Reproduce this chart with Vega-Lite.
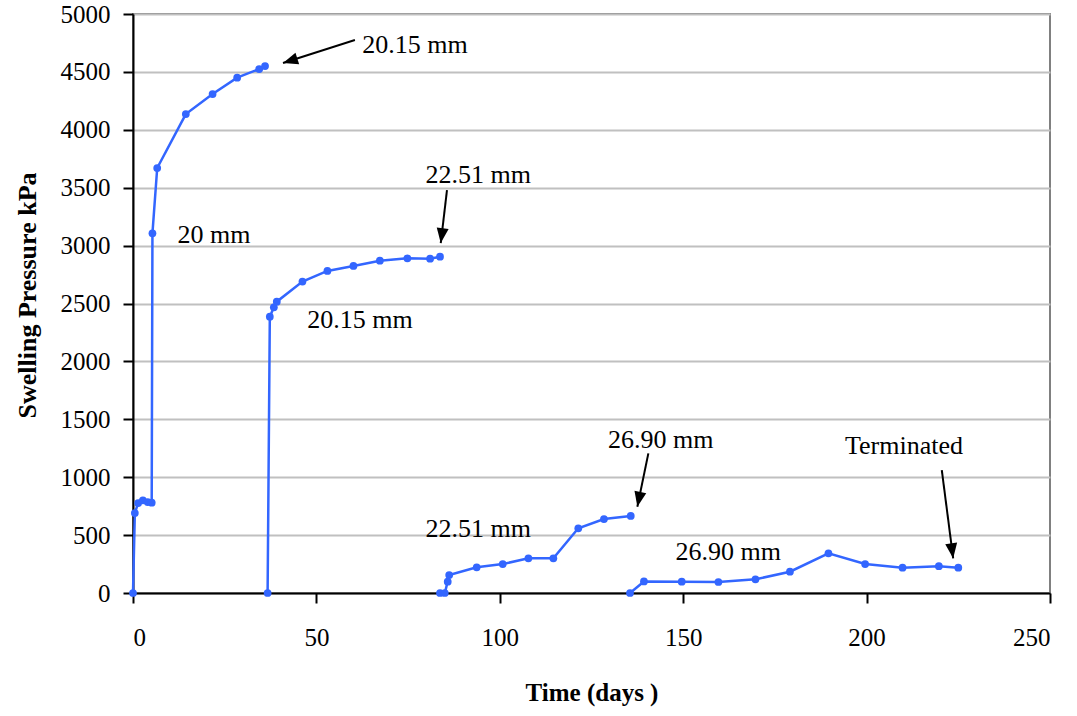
{
  "$schema": "https://vega.github.io/schema/vega-lite/v6.json",
  "width": 917,
  "height": 579,
  "autosize": {"type": "none"},
  "padding": {"left": 133, "top": 14, "right": 27, "bottom": 123},
  "background": "white",
  "config": {
    "font": "Liberation Serif",
    "view": {"stroke": "#808080", "strokeWidth": 2},
    "axis": {
      "domainColor": "black", "domainWidth": 2, "tickColor": "black", "tickWidth": 2, "tickSize": 10,
      "labelFont": "Liberation Serif", "labelFontSize": 25, "labelColor": "black",
      "titleFont": "Liberation Serif", "titleFontSize": 25, "titleFontWeight": "bold", "titleColor": "black",
      "gridColor": "#c0c0c0", "gridWidth": 2
    }
  },
  "datasets": {
    "swell": [
      {"s": "A", "t": 0, "p": 0},
      {"s": "A", "t": 0.5, "p": 690},
      {"s": "A", "t": 1.4, "p": 777},
      {"s": "A", "t": 2.7, "p": 800},
      {"s": "A", "t": 4, "p": 785},
      {"s": "A", "t": 5.1, "p": 780},
      {"s": "A", "t": 5.3, "p": 3106},
      {"s": "A", "t": 6.6, "p": 3670},
      {"s": "A", "t": 14.4, "p": 4136},
      {"s": "A", "t": 21.7, "p": 4309},
      {"s": "A", "t": 28.4, "p": 4450},
      {"s": "A", "t": 34.4, "p": 4525},
      {"s": "A", "t": 36, "p": 4550},
      {"s": "B", "t": 36.7, "p": 0},
      {"s": "B", "t": 37.3, "p": 2386},
      {"s": "B", "t": 38.4, "p": 2467},
      {"s": "B", "t": 39.2, "p": 2516},
      {"s": "B", "t": 46.2, "p": 2689},
      {"s": "B", "t": 53, "p": 2781},
      {"s": "B", "t": 60.1, "p": 2824},
      {"s": "B", "t": 67.3, "p": 2870},
      {"s": "B", "t": 74.8, "p": 2890},
      {"s": "B", "t": 81, "p": 2887},
      {"s": "B", "t": 83.7, "p": 2904},
      {"s": "C", "t": 83.7, "p": 0},
      {"s": "C", "t": 85, "p": 0},
      {"s": "C", "t": 85.8, "p": 98},
      {"s": "C", "t": 86.2, "p": 155},
      {"s": "C", "t": 93.7, "p": 222},
      {"s": "C", "t": 100.8, "p": 250},
      {"s": "C", "t": 107.8, "p": 300},
      {"s": "C", "t": 114.6, "p": 300},
      {"s": "C", "t": 121.4, "p": 559},
      {"s": "C", "t": 128.4, "p": 639},
      {"s": "C", "t": 135.7, "p": 665},
      {"s": "D", "t": 135.5, "p": 0},
      {"s": "D", "t": 139.3, "p": 100},
      {"s": "D", "t": 149.6, "p": 98},
      {"s": "D", "t": 159.6, "p": 95},
      {"s": "D", "t": 169.7, "p": 118},
      {"s": "D", "t": 179.1, "p": 184},
      {"s": "D", "t": 189.6, "p": 343},
      {"s": "D", "t": 199.6, "p": 250},
      {"s": "D", "t": 209.8, "p": 219},
      {"s": "D", "t": 219.7, "p": 232},
      {"s": "D", "t": 225, "p": 219}
    ],
    "arrows": [
      {"x": 60.5, "y": 4775, "x2": 40.9, "y2": 4577, "angle": 252.3},
      {"x": 85.6, "y": 3480, "x2": 83.9, "y2": 3022, "angle": 187.5},
      {"x": 140.5, "y": 1206, "x2": 137.5, "y2": 745, "angle": 191.6},
      {"x": 220.5, "y": 1062, "x2": 223.6, "y2": 300, "angle": 172.5}
    ],
    "labels": [
      {"x": 76.9, "y": 4732, "text": "20.15 mm"},
      {"x": 22.1, "y": 3092, "text": "20 mm"},
      {"x": 94.1, "y": 3610, "text": "22.51 mm"},
      {"x": 61.9, "y": 2358, "text": "20.15 mm"},
      {"x": 143.9, "y": 1321, "text": "26.90 mm"},
      {"x": 94.1, "y": 553, "text": "22.51 mm"},
      {"x": 162.3, "y": 350, "text": "26.90 mm"},
      {"x": 210.2, "y": 1269, "text": "Terminated"}
    ]
  },
  "layer": [
    {
      "data": {"name": "swell"},
      "mark": {"type": "line", "color": "#3366ff", "strokeWidth": 2.5, "point": {"filled": true, "size": 60, "color": "#3366ff", "opacity": 1}},
      "encoding": {
        "x": {"field": "t", "type": "quantitative", "scale": {"domain": [0, 250], "nice": false},
          "axis": {"values": [0, 50, 100, 150, 200, 250], "format": "d", "grid": false, "labelPadding": 22, "title": "Time (days )", "titlePadding": 30}},
        "y": {"field": "p", "type": "quantitative", "scale": {"domain": [0, 5000], "nice": false},
          "axis": {"values": [0, 500, 1000, 1500, 2000, 2500, 3000, 3500, 4000, 4500, 5000], "format": "d", "grid": true, "labelPadding": 13,
            "title": "Swelling Pressure kPa", "titleX": -106, "titleY": 281, "titleBaseline": "middle", "titleAlign": "center", "titleFontSize": 26}},
        "detail": {"field": "s"}
      }
    },
    {
      "data": {"name": "arrows"},
      "mark": {"type": "rule", "color": "black", "strokeWidth": 2},
      "encoding": {
        "x": {"field": "x", "type": "quantitative"},
        "y": {"field": "y", "type": "quantitative"},
        "x2": {"field": "x2"},
        "y2": {"field": "y2"}
      }
    },
    {
      "data": {"name": "arrows"},
      "mark": {"type": "point", "shape": "M0,0 L-0.4,1 L0.4,1 Z", "filled": true, "color": "black", "opacity": 1, "size": 900},
      "encoding": {
        "x": {"field": "x2", "type": "quantitative"},
        "y": {"field": "y2", "type": "quantitative"},
        "angle": {"field": "angle", "type": "quantitative", "scale": null}
      }
    },
    {
      "data": {"name": "labels"},
      "mark": {"type": "text", "font": "Liberation Serif", "fontSize": 26, "color": "black", "align": "center", "baseline": "middle"},
      "encoding": {
        "x": {"field": "x", "type": "quantitative"},
        "y": {"field": "y", "type": "quantitative"},
        "text": {"field": "text"}
      }
    }
  ]
}
